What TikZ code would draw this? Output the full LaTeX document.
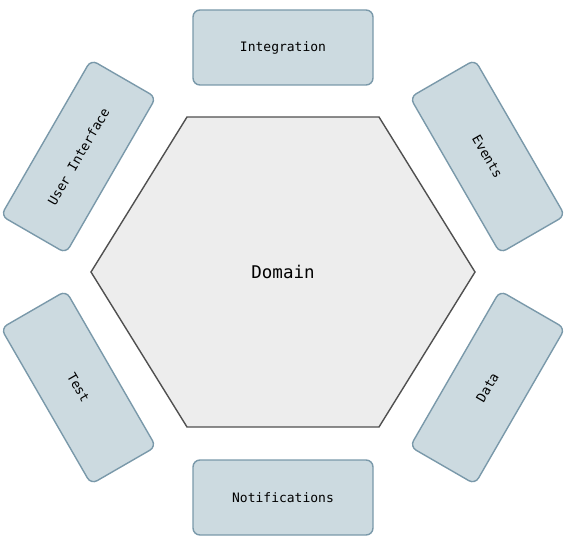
\documentclass[tikz,border=0pt]{standalone}
\usepackage{fontspec}
\setmonofont{DejaVu Sans Mono}
\usepackage{tikz}
\usetikzlibrary{positioning}
\definecolor{boxfill}{RGB}{204,218,224}
\definecolor{boxline}{RGB}{122,153,170}
\definecolor{hexfill}{RGB}{237,237,237}
\definecolor{hexline}{RGB}{80,80,80}
\tikzset{
layerbox/.style={
  draw=boxline,
  fill=boxfill,
  line width=1.4pt,
  rounded corners=7pt,
  minimum width=180pt,
  minimum height=75pt,
  inner sep=0pt,
  font=\ttfamily\fontsize{13}{15}\selectfont
  },
hexcore/.style={
  draw=hexline,
  fill=hexfill,
  line width=1.4pt,
  line join=miter
  }
}

\begin{document}
\begin{tikzpicture}[x=1pt, y=-1pt]
\useasboundingbox (0,0) rectangle (570,540);

\draw[hexcore]
  (187,117) -- (379,117) -- (475,272) -- (379,427) -- (187,427) -- (91,272) -- cycle;
\node[font=\ttfamily\fontsize{17.5}{20}\selectfont] (domain) at (283,272) {Domain};

\node[layerbox] (integration) at (283,47.5) {Integration};
\node[layerbox] (notifications) at (283,497.5) {Notifications};
\node[layerbox, rotate=60] (ui) at (78.5,156.5) {User Interface};
\node[layerbox, rotate=-60] (events) at (487.5,156.5) {Events};
\node[layerbox, rotate=-60] (test) at (78.5,387.5) {Test};
\node[layerbox, rotate=60] (data) at (487.5,387.5) {Data};
\end{tikzpicture}
\end{document}
